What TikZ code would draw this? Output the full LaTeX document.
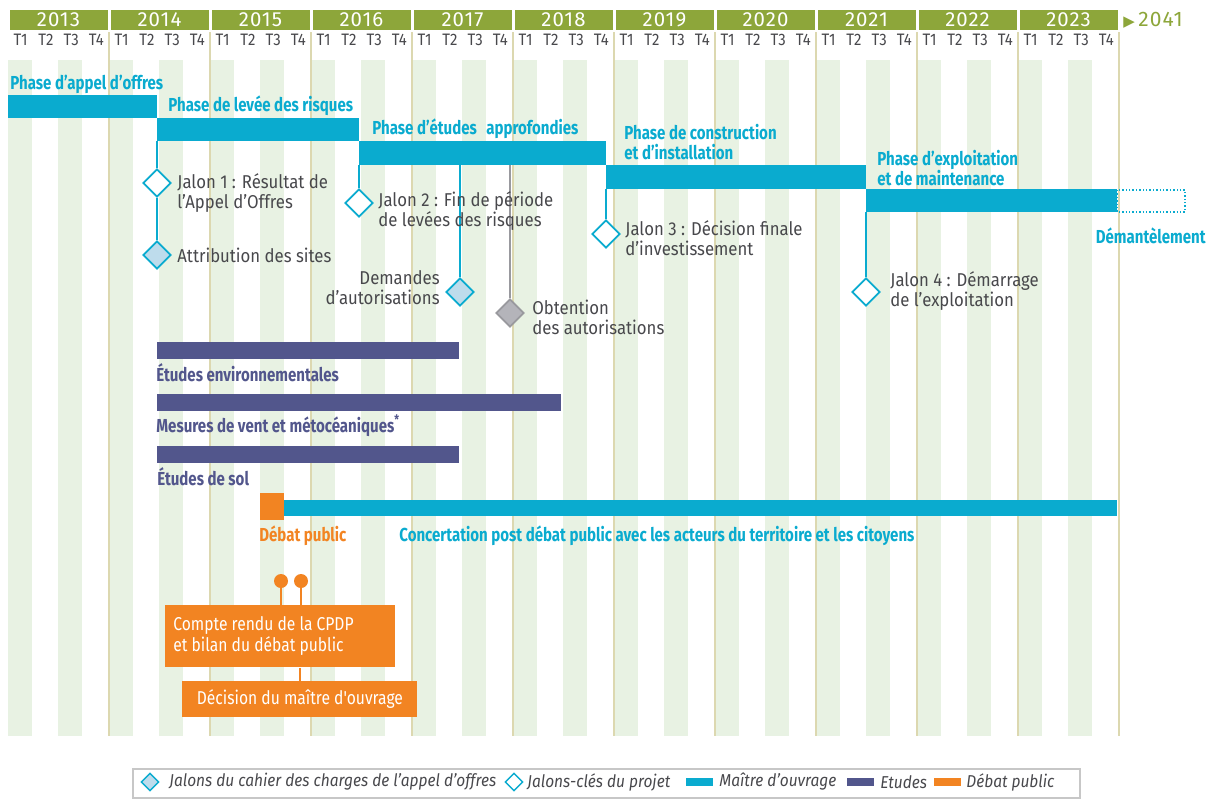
\documentclass[tikz,border=0pt]{standalone}
\usepackage{fontspec}
\setmainfont[FakeStretch=0.9]{Fira Sans}
\newfontfamily\titrefont[FakeStretch=0.8]{Fira Sans}
\newfontfamily\anneefont[LetterSpace=5]{Fira Sans}
\newfontfamily\boitefont[FakeStretch=0.84]{Fira Sans}
\newfontfamily\symbfont{DejaVu Sans}
\usetikzlibrary{shapes.geometric,positioning}
\definecolor{anneecol}{RGB}{141,166,58}
\definecolor{bandecol}{RGB}{232,242,227}
\definecolor{grillecol}{RGB}{220,216,176}
\definecolor{moacol}{RGB}{10,171,207}
\definecolor{etudecol}{RGB}{82,86,140}
\definecolor{debatcol}{RGB}{242,132,34}
\definecolor{cdccol}{RGB}{190,220,236}
\definecolor{obtcol}{RGB}{180,180,186}
\definecolor{textecol}{RGB}{72,72,76}
\tikzset{
  annee/.style={text=white,inner sep=0pt,font=\anneefont\fontsize{10.2}{11}\selectfont},
  trim/.style={text=textecol,inner sep=0pt,font=\fontsize{8.3}{9}\selectfont},
  jalon/.style={diamond,draw=moacol,fill=white,line width=0.9pt,minimum size=14pt,inner sep=0pt},
  jalon cdc/.style={jalon,fill=cdccol},
  jalon obt/.style={jalon,draw=obtcol!85!black,fill=obtcol},
  jalon text/.style={anchor=west,align=left,text=textecol,inner sep=0pt,font=\fontsize{9.3}{10}\selectfont},
  phase label/.style={anchor=west,align=left,inner sep=0pt,text=moacol,font=\titrefont\bfseries\fontsize{9.4}{10}\selectfont},
  etude label/.style={phase label,text=etudecol},
  moaedge/.style={draw=moacol,line width=0.8pt},
  obtedge/.style={draw=obtcol!85!black,line width=0.8pt},
  debatedge/.style={draw=debatcol,line width=1.2pt},
  pastille/.style={circle,fill=debatcol,minimum size=7pt,inner sep=0pt},
  debat box/.style={fill=debatcol,text=white,inner sep=0pt,font=\boitefont\fontsize{9.3}{10.5}\selectfont},
  legend text/.style={anchor=west,inner sep=0pt,text=textecol,font=\itshape\fontsize{8.6}{9}\selectfont},
  legend key/.style={minimum width=13.5pt,minimum height=4pt,inner sep=0pt}
}

\begin{document}
\begin{tikzpicture}[x=0.5pt,y=-0.5pt]
  \useasboundingbox (0,0) rectangle (1215,798);

  % quarter stripes, year header and quarter labels
  \foreach \yr [count=\i from 0] in {2013,...,2023}{
    \pgfmathsetmacro\xs{8+101*\i}
    \fill[bandecol] (\xs,60) rectangle (\xs+24,736);
    \fill[bandecol] (\xs+50,60) rectangle (\xs+74,736);
    \fill[anneecol] (\xs+1.5,10) rectangle (\xs+99.5,30);
    \node[annee] (a\yr) at (\xs+50.5,20) {\yr};
    \foreach \q in {1,...,4}{\node[trim] (t\yr\q) at (\xs+25.25*\q-12.6,40) {T\q};}
  }
  \foreach \i in {1,...,11}{\draw[grillecol,line width=0.8pt] (8+101*\i,32) -- (8+101*\i,736);}
  \node[anchor=west,inner sep=0pt,text=anneecol,font=\anneefont\fontsize{10.5}{11}\selectfont] (a2041) at (1123,20)
    {{\symbfont\fontsize{7.5}{8}\selectfont ▶}\,2041};

  % phases (maitre d'ouvrage)
  \fill[moacol] (8,95) rectangle (157,118);
  \fill[moacol] (157,118) rectangle (359,141);
  \fill[moacol] (359,141) rectangle (606,165);
  \fill[moacol] (606,165) rectangle (866,189);
  \fill[moacol] (866,189) rectangle (1117,212);
  \draw[moacol,densely dotted,line width=0.7pt] (1117,190) rectangle (1185,212);

  \node[phase label] (p1) at (10,84) {Phase d’appel d’offres};
  \node[phase label] (p2) at (168,106) {Phase de levée des risques};
  \node[phase label] (p3) at (372,129) {Phase d’études\hspace{3pt} approfondies};
  \node[phase label] (p4) at (624,142) {Phase de construction\\et d’installation};
  \node[phase label] (p5) at (877,168) {Phase d’exploitation\\et de maintenance};
  \node[phase label,anchor=east] (p6) at (1206,236) {Démantèlement};

  % jalons
  \coordinate (j1top) at (157,141);
  \coordinate (j2top) at (359,165);
  \coordinate (dmtop) at (460,165);
  \coordinate (obtop) at (510,165);
  \coordinate (j3top) at (606,189);
  \coordinate (j4top) at (866,212);

  \node[jalon]     (j1)  at (157,183) {};
  \node[jalon cdc] (att) at (157,255) {};
  \node[jalon]     (j2)  at (359,203) {};
  \node[jalon cdc] (dem) at (460,292) {};
  \node[jalon obt] (obt) at (510,313) {};
  \node[jalon]     (j3)  at (606,234) {};
  \node[jalon]     (j4)  at (866,292) {};

  \draw[moaedge] (j1top) -- (j1) -- (att);
  \draw[moaedge] (j2top) -- (j2);
  \draw[moaedge] (dmtop) -- (dem);
  \draw[obtedge] (obtop) -- (obt);
  \draw[moaedge] (j3top) -- (j3);
  \draw[moaedge] (j4top) -- (j4);

  \node[jalon text] (tj1)  at (177,193) {Jalon 1 : Résultat de\\l'Appel d'Offres};
  \node[jalon text] (tatt) at (177,255) {Attribution des sites};
  \node[jalon text] (tj2)  at (378,211) {Jalon 2 : Fin de période\\de levées des risques};
  \node[jalon text,anchor=east,align=right] (tdem) at (440,288) {Demandes\\d'autorisations};
  \node[jalon text] (tobt) at (532,317) {Obtention\\des autorisations};
  \node[jalon text] (tj3)  at (625,238) {Jalon 3 : Décision finale\\d'investissement};
  \node[jalon text] (tj4)  at (890,291) {Jalon 4 : Démarrage\\de l'exploitation};

  % etudes
  \fill[etudecol] (157,342) rectangle (459,359);
  \fill[etudecol] (157,394) rectangle (561,411);
  \fill[etudecol] (157,446) rectangle (459,463);
  \node[etude label] (e1) at (156,373) {Études environnementales};
  \node[etude label] (e2) at (156,426) {Mesures de vent et métocéaniques\textsuperscript{*}};
  \node[etude label] (e3) at (157,477) {Études de sol};

  % debat public et concertation
  \fill[debatcol] (260,493) rectangle (284,520);
  \fill[moacol] (284,500) rectangle (1117,516);
  \node[phase label,text=debatcol] (dp) at (259,536) {Débat public};
  \node[phase label] (conc) at (399,536) {Concertation post débat public avec les acteurs du territoire et les citoyens};

  \node[debat box,anchor=north west,minimum width=115pt,minimum height=31pt,text width=107pt,align=flush left]
    (cpdp) at (165,605) {Compte rendu de la CPDP\\et bilan du débat public};
  \node[debat box,anchor=north west,minimum width=117.5pt,minimum height=18pt]
    (dmo) at (182,681) {Décision du maître d'ouvrage};
  \node[pastille] (c1) at (281,581) {};
  \node[pastille] (c2) at (301,581) {};
  \draw[debatedge] (c1) -- (c1 |- cpdp.north);
  \draw[debatedge] (c2) -- (c2 |- cpdp.north);
  \draw[debatedge] (dmo.north) -- (dmo.north |- cpdp.south);

  % legend
  \draw[black!22,line width=0.6pt] (133,769) rectangle (1080,798);
  \node[jalon cdc,minimum size=9pt,line width=0.7pt] (lcdc) at (150,782) {};
  \node[legend text] (tcdc) at (169,782) {Jalons du cahier des charges de l'appel d'offres};
  \node[jalon,minimum size=9pt,line width=0.7pt] (lcle) at (514,782) {};
  \node[legend text] (tcle) at (527,782) {Jalons-clés du projet};
  \node[legend key,fill=moacol] (lmoa) at (699,782) {};
  \node[legend text] (tmoa) at (719,782) {Maître d'ouvrage};
  \node[legend key,fill=etudecol] (letu) at (860,782) {};
  \node[legend text] (tetu) at (880,782) {Etudes};
  \node[legend key,fill=debatcol] (ldeb) at (947,782) {};
  \node[legend text] (tdeb) at (966,782) {Débat public};
\end{tikzpicture}
\end{document}
